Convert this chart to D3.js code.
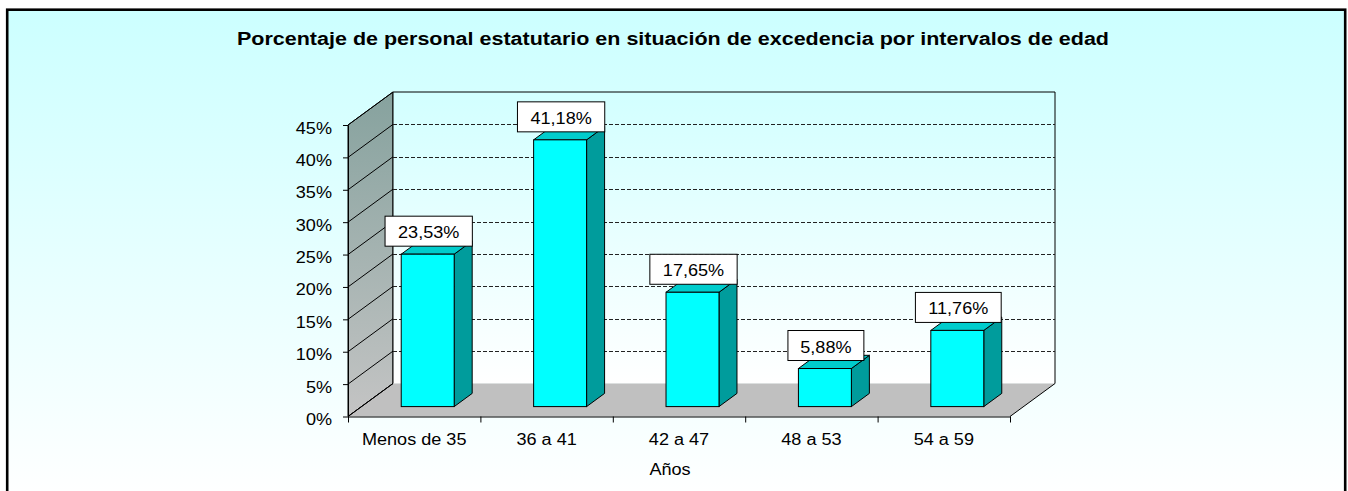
<!DOCTYPE html>
<html>
<head>
<meta charset="utf-8">
<script src="https://cdn.jsdelivr.net/npm/d3@7"></script>
<style>
  html, body { margin: 0; padding: 0; background: #ffffff; }
  svg { display: block; }
  text { font-family: "Liberation Sans", Arial, sans-serif; fill: #000; }
</style>
</head>
<body>
<svg id="chart" width="1348" height="491"></svg>
<script>
// Chart data
const title = "Porcentaje de personal estatutario en situación de excedencia por intervalos de edad";
const categories = ["Menos de 35", "36 a 41", "42 a 47", "48 a 53", "54 a 59"];
const values = [23.53, 41.18, 17.65, 5.88, 11.76];
const yTicks = [0, 5, 10, 15, 20, 25, 30, 35, 40, 45];
const xAxisTitle = "Años";

const svg = d3.select("#chart");
const W = 1348, H = 491;

// Front plane of the 3D plot box and the depth offset to its back plane
const plot = { left: 348, right: 1010, bottom: 416.5, top: 125 };
const DX = 45, DY = -33;
const barDepth0 = 0.3, barDepth1 = 0.7;   // bars sit in the middle of the depth
const textStretch = 1.13;

const x = d3.scaleBand(categories, [plot.left, plot.right]).paddingInner(0.6).paddingOuter(0.3);
const xEdge = d3.scaleLinear([0, categories.length], [plot.left, plot.right]);
const y = d3.scaleLinear([0, 45], [plot.bottom, plot.top]);

const defs = svg.append("defs");
const bg = defs.append("linearGradient").attr("id", "bg")
  .attr("gradientUnits", "userSpaceOnUse").attr("x1", 0).attr("y1", 10).attr("x2", 0).attr("y2", 500);
bg.append("stop").attr("offset", 0).attr("stop-color", "#ccffff");
bg.append("stop").attr("offset", 1).attr("stop-color", "#ffffff");

const wallBack = defs.append("linearGradient").attr("id", "wallBack")
  .attr("gradientUnits", "userSpaceOnUse").attr("x1", 0).attr("y1", y(45) + DY).attr("x2", 0).attr("y2", y(0) + DY);
wallBack.append("stop").attr("offset", 0).attr("stop-color", "#d2ffff");
wallBack.append("stop").attr("offset", 1).attr("stop-color", "#ffffff");

const wallSide = defs.append("linearGradient").attr("id", "wallSide")
  .attr("gradientUnits", "userSpaceOnUse").attr("x1", 0).attr("y1", y(45) + DY).attr("x2", 0).attr("y2", y(0));
wallSide.append("stop").attr("offset", 0).attr("stop-color", "#86a29e");
wallSide.append("stop").attr("offset", 1).attr("stop-color", "#c4c4c4");

// Chart area with frame
svg.append("rect").attr("x", 7.2).attr("y", 9.7).attr("width", 1338).attr("height", 500)
  .attr("fill", "url(#bg)").attr("stroke", "#000").attr("stroke-width", 2.6);

// Helper: stretch text horizontally by a factor using textLength
function stretch(sel, k) {
  sel.each(function () {
    const w = this.getComputedTextLength();
    d3.select(this).attr("textLength", w * k).attr("lengthAdjust", "spacingAndGlyphs");
  });
}

// Title
svg.append("text").attr("x", 673).attr("y", 45).attr("text-anchor", "middle")
  .attr("font-size", 18).attr("font-weight", "bold").text(title)
  .attr("textLength", 872).attr("lengthAdjust", "spacingAndGlyphs");

const line = d3.line();

// Side wall
svg.append("path")
  .attr("d", line([[plot.left, y(0)], [plot.left, y(45)], [plot.left + DX, y(45) + DY], [plot.left + DX, y(0) + DY]]) + "Z")
  .attr("fill", "url(#wallSide)").attr("stroke", "#000").attr("stroke-width", 1);

// Back wall
svg.append("path")
  .attr("d", line([[plot.left + DX, y(0) + DY], [plot.left + DX, y(45) + DY], [plot.right + DX, y(45) + DY], [plot.right + DX, y(0) + DY]]) + "Z")
  .attr("fill", "url(#wallBack)").attr("stroke", "none");
svg.append("path")
  .attr("d", line([[plot.left + DX, y(0) + DY], [plot.left + DX, y(45) + DY], [plot.right + DX, y(45) + DY], [plot.right + DX, y(0) + DY]]))
  .attr("fill", "none").attr("stroke", "#000").attr("stroke-width", 1);

// Floor
svg.append("path")
  .attr("d", line([[plot.left, y(0)], [plot.left + DX, y(0) + DY], [plot.right + DX, y(0) + DY], [plot.right, y(0)]]) + "Z")
  .attr("fill", "#c0c0c0").attr("stroke", "none");
svg.append("path")
  .attr("d", line([[plot.left, y(0)], [plot.left + DX, y(0) + DY]]))
  .attr("stroke", "#000").attr("fill", "none");
svg.append("path")
  .attr("d", line([[plot.right, y(0)], [plot.right + DX, y(0) + DY]]))
  .attr("stroke", "#000").attr("fill", "none");

// Gridlines: dashed on the back wall, solid diagonals across the side wall
svg.append("g").selectAll("line").data(yTicks.filter(d => d > 0 && d < 45)).join("line")
  .attr("x1", plot.left + DX).attr("x2", plot.right + DX)
  .attr("y1", d => Math.round(y(d) + DY) + 0.5).attr("y2", d => Math.round(y(d) + DY) + 0.5)
  .attr("stroke", "#222").attr("stroke-width", 1).attr("stroke-dasharray", "4,2");
svg.append("g").selectAll("line").data(yTicks).join("line")
  .attr("x1", plot.left).attr("y1", d => y(d))
  .attr("x2", plot.left + DX).attr("y2", d => y(d) + DY)
  .attr("stroke", "#000").attr("stroke-width", 1);

// Y axis
const yAxis = svg.append("g").attr("transform", `translate(${plot.left},0)`)
  .call(d3.axisLeft(y).tickValues(yTicks).tickFormat(d => d + "%").tickSize(5).tickSizeOuter(0).tickPadding(11));
yAxis.select(".domain").attr("stroke", "#000");
yAxis.selectAll(".tick line").attr("stroke", "#000");
yAxis.selectAll("text").attr("font-size", 16).attr("font-family", null).attr("dy", "0.5em").call(stretch, textStretch);

// X axis: labels at category centres, ticks at category boundaries
const xAxis = svg.append("g").attr("transform", `translate(0,${plot.bottom})`)
  .call(d3.axisBottom(x).tickSize(0).tickSizeOuter(0).tickPadding(17));
xAxis.select(".domain").attr("stroke", "#000");
xAxis.selectAll("text").attr("font-size", 16).attr("font-family", null).call(stretch, textStretch);
const xTicks = svg.append("g").attr("transform", `translate(0,${plot.bottom})`)
  .call(d3.axisBottom(xEdge).tickValues(d3.range(categories.length + 1)).tickSize(6).tickFormat(""));
xTicks.select(".domain").remove();
xTicks.selectAll(".tick line").attr("stroke", "#000");

// Axis title
svg.append("text").attr("x", 670).attr("y", 475).attr("text-anchor", "middle")
  .attr("font-size", 16).text(xAxisTitle).call(stretch, textStretch);

// Bars (3D prisms)
const fdx = DX * barDepth0, fdy = DY * barDepth0;
const bdx = DX * (barDepth1 - barDepth0), bdy = DY * (barDepth1 - barDepth0);
const bars = svg.append("g").selectAll("g").data(values).join("g");
bars.each(function (v, i) {
  const g = d3.select(this);
  const xl = x(categories[i]) + fdx, xr = xl + x.bandwidth();
  const yb = y(0) + fdy, yt = y(v) + fdy;
  g.append("path").attr("d", line([[xr, yb], [xr + bdx, yb + bdy], [xr + bdx, yt + bdy], [xr, yt]]) + "Z")
    .attr("fill", "#009c9c").attr("stroke", "#000").attr("stroke-width", 1).attr("stroke-linejoin", "round");
  g.append("path").attr("d", line([[xl, yt], [xl + bdx, yt + bdy], [xr + bdx, yt + bdy], [xr, yt]]) + "Z")
    .attr("fill", "#00cccc").attr("stroke", "#000").attr("stroke-width", 1).attr("stroke-linejoin", "round");
  g.append("rect").attr("x", xl).attr("y", yt).attr("width", xr - xl).attr("height", yb - yt)
    .attr("fill", "#00ffff").attr("stroke", "#000").attr("stroke-width", 1);
});

// Value labels in boxes
const labels = svg.append("g").selectAll("g").data(values).join("g");
labels.each(function (v, i) {
  const g = d3.select(this);
  const cx = x(categories[i]) + fdx + x.bandwidth() / 2 + 1;
  const cy = y(v) + fdy - 23;
  const rect = g.append("rect");
  const t = g.append("text").attr("x", cx).attr("y", cy + 7).attr("text-anchor", "middle")
    .attr("font-size", 16).text(v.toFixed(2).replace(".", ",") + "%").call(stretch, textStretch);
  const w = t.node().getComputedTextLength() * textStretch + 18;
  rect.attr("x", cx - w / 2).attr("y", cy - 15).attr("width", w).attr("height", 30)
    .attr("fill", "#fff").attr("stroke", "#000").attr("stroke-width", 1);
});
</script>
</body>
</html>
